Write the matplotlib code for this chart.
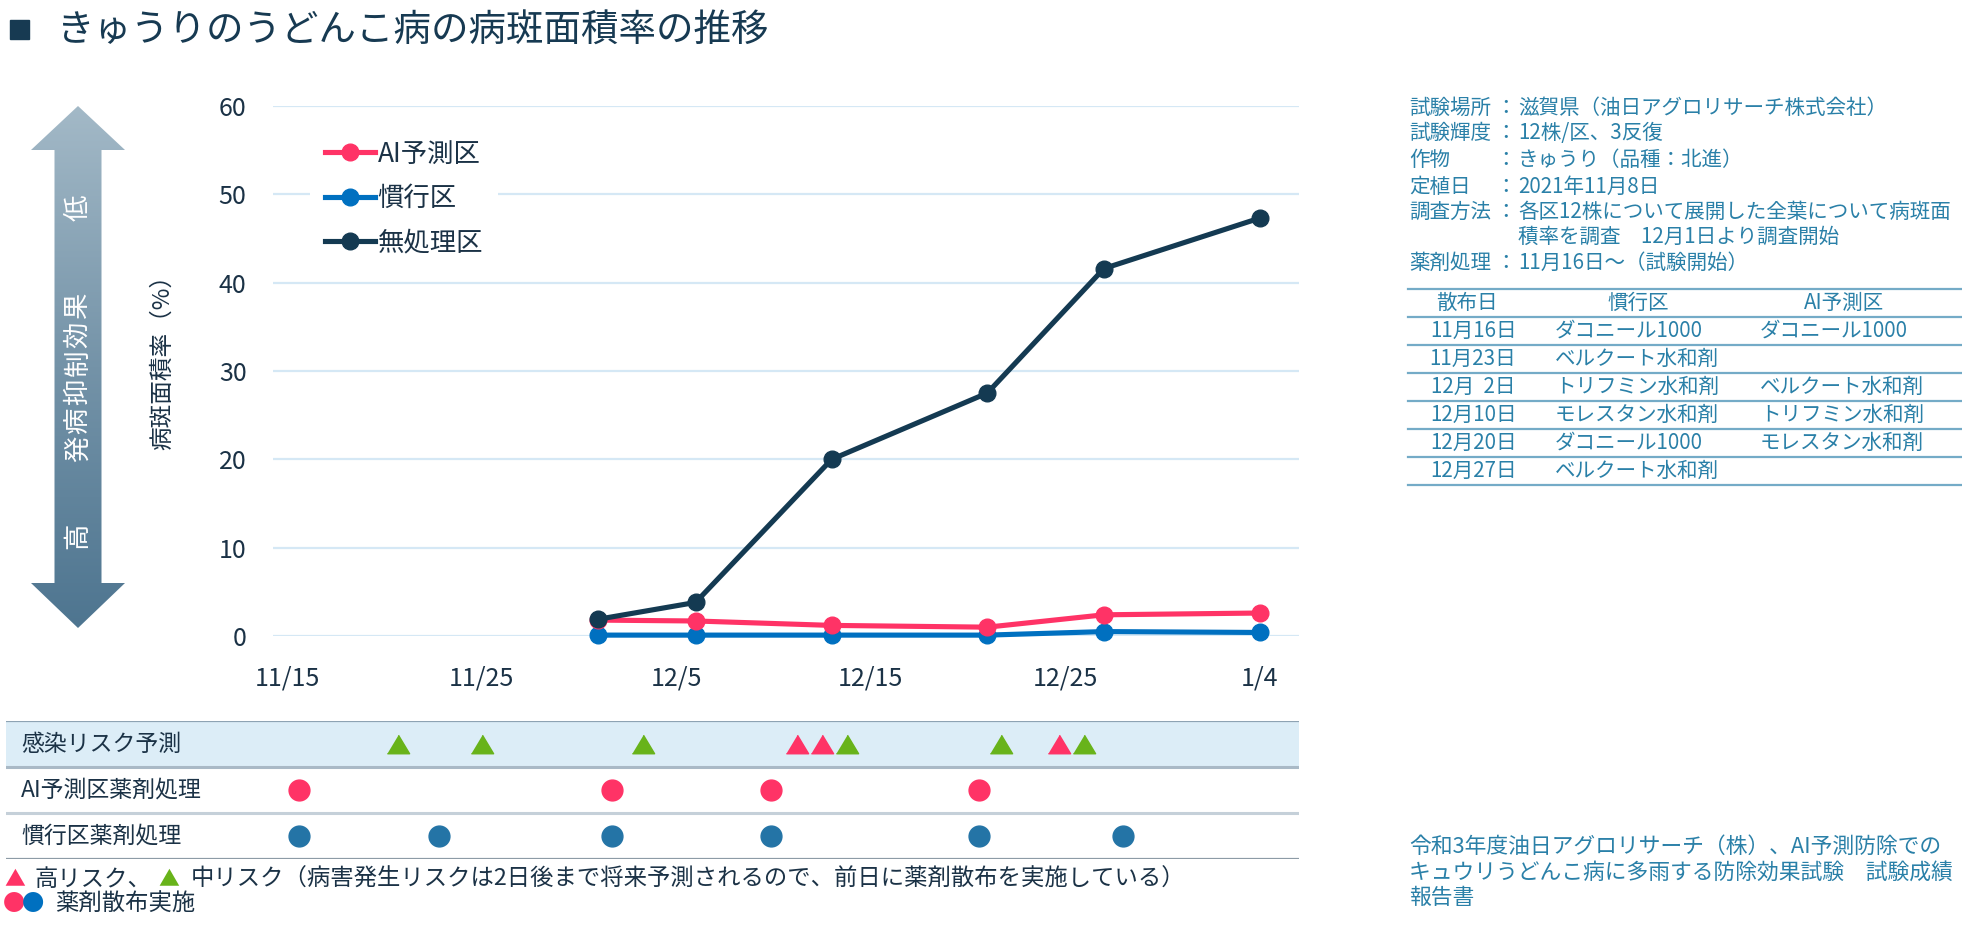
import numpy as np
import matplotlib
matplotlib.use('Agg')
from matplotlib import pyplot as plt
from matplotlib.patches import Polygon, Rectangle
from matplotlib.colors import LinearSegmentedColormap
from matplotlib import transforms

plt.rcParams['font.family'] = ['Noto Sans CJK JP', 'DejaVu Sans']

W, H = 1962, 932
NAVY = '#173a52'
TEXT = '#1b3246'
TEAL = '#2a80a8'

# chart data (x = days after 11/15)
x_ticks = [0, 10, 20, 30, 40, 50]
x_tick_labels = ['11/15', '11/25', '12/5', '12/15', '12/25', '1/4']
survey_days = [16, 21, 28, 36, 42, 50]
ai_area = [1.8, 1.7, 1.2, 1.0, 2.4, 2.6]
conv_area = [0.1, 0.1, 0.1, 0.1, 0.5, 0.4]
untreated_area = [1.9, 3.8, 20.0, 27.5, 41.6, 47.3]
series_names = ['AI予測区', '慣行区', '無処理区']
series_colors = ['#ff3366', '#0070c0', '#143a52']

# lower panel
row_labels = ['感染リスク予測', 'AI予測区薬剤処理', '慣行区薬剤処理']
risk_days = [5.7, 10.0, 18.3, 26.2, 27.5, 28.8, 36.7, 39.7, 41.0]
risk_levels = ['中', '中', '中', '高', '高', '中', '中', '高', '中']
ai_spray_days = [0.6, 16.7, 24.9, 35.6]
conv_spray_days = [0.6, 7.8, 16.7, 24.9, 35.6, 43.0]

# right side text
info_labels = ['試験場所', '試験輝度', '作物', '定植日', '調査方法', '', '薬剤処理']
info_values = ['滋賀県（油日アグロリサーチ株式会社）', '12株/区、3反復', 'きゅうり（品種：北進）',
               '2021年11月8日', '各区12株について展開した全葉について病斑面',
               '積率を調査　12月1日より調査開始', '11月16日～（試験開始）']
table_header = ['散布日', '慣行区', 'AI予測区']
spray_dates = ['11月16日', '11月23日', '12月  2日', '12月10日', '12月20日', '12月27日']
conv_products = ['ダコニール1000', 'ベルクート水和剤', 'トリフミン水和剤', 'モレスタン水和剤',
                 'ダコニール1000', 'ベルクート水和剤']
ai_products = ['ダコニール1000', '', 'ベルクート水和剤', 'トリフミン水和剤', 'モレスタン水和剤', '']
source_lines = ['令和3年度油日アグロリサーチ（株）、AI予測防除での',
                'キュウリうどんこ病に多雨する防除効果試験　試験成績',
                '報告書']


def fx(x):
    return x / W


def fy(y):
    return 1 - y / H


fig = plt.figure(figsize=(W / 100, H / 100), dpi=100)

# overlay in pixel coordinates for free text and the arrow
ov = fig.add_axes([0, 0, 1, 1])
ov.axis('off')

# gradient arrow
cx = 78
arrow = [(cx, 106), (cx + 47, 150), (cx + 23.5, 150), (cx + 23.5, 583), (cx + 47, 583),
         (cx, 628), (cx - 47, 583), (cx - 23.5, 583), (cx - 23.5, 150), (cx - 47, 150)]
poly = Polygon(arrow, closed=True, facecolor='none', edgecolor='none')
ov.add_patch(poly)
cmap = LinearSegmentedColormap.from_list('arr', ['#a3b9c7', '#7493a8', '#4e7590'])
img = ov.imshow(np.linspace(0, 1, 256).reshape(-1, 1), cmap=cmap, aspect='auto',
                extent=(cx - 48, cx + 48, 628, 106), origin='upper')
img.set_clip_path(poly)
ov.set_xlim(0, W)
ov.set_ylim(H, 0)

ov.text(cx, 208, '低', rotation=90, color='white', fontsize=19, ha='center', va='center')
ov.text(cx, 536, '高', rotation=90, color='white', fontsize=19, ha='center', va='center')
for i, ch in enumerate('発病抑制効果'):
    ov.text(cx, 449 - i * 28.6, ch, rotation=90, color='white', fontsize=19,
            ha='center', va='center')

# title
ov.add_patch(Rectangle((10, 20), 19, 19, color=NAVY))
ov.text(57, 30, 'きゅうりのうどんこ病の病斑面積率の推移', fontsize=27, color=NAVY, va='center')

# y label
ov.text(163, 357, '病斑面積率（%）', rotation=90, fontsize=17, color=TEXT, ha='center', va='center')

# main chart
ax = fig.add_axes([fx(273), fy(636), (1299 - 273) / W, (636 - 106) / H])
ax.set_xlim(-0.73, 52.03)
ax.set_ylim(0, 60)
ax.set_yticks(range(0, 61, 10))
ax.set_xticks(x_ticks, x_tick_labels)
ax.grid(axis='y', color='#d5e8f5', lw=1.6)
ax.set_axisbelow(True)
for s in ax.spines.values():
    s.set_visible(False)
ax.tick_params(axis='both', length=0, labelsize=18, labelcolor=TEXT)
ax.tick_params(axis='y', pad=19)
ax.tick_params(axis='x', pad=21)

l_conv, = ax.plot(survey_days, conv_area, color=series_colors[1], lw=3.7, marker='o', ms=12,
                  clip_on=False, zorder=3)
l_ai, = ax.plot(survey_days, ai_area, color=series_colors[0], lw=3.7, marker='o', ms=12,
                clip_on=False, zorder=4)
l_un, = ax.plot(survey_days, untreated_area, color=series_colors[2], lw=3.7, marker='o', ms=12,
                clip_on=False, zorder=5)

ax.legend([l_ai, l_conv, l_un], series_names, loc='upper left',
          bbox_to_anchor=(fx(297), fy(113)), bbox_transform=fig.transFigure,
          frameon=True, fancybox=False, edgecolor='none', facecolor='white', framealpha=1,
          fontsize=19, handlelength=1.9, handletextpad=0.1, labelspacing=0.66,
          borderpad=0.55, labelcolor=TEXT)

# lower panel
ax2 = fig.add_axes([fx(6), fy(859), (1299 - 6) / W, (859 - 721) / H])
ax2.set_xlim(-14.45, 52.03)
ax2.set_ylim(3, 0)
ax2.axis('off')
ax2.axhspan(0, 1, color='#dcedf7', zorder=0)
for yy, c, w in [(0, '#8ea3b3', 1.6), (1, '#a9b9c6', 2.2), (2, '#c5d0d9', 2.2), (3, '#8d9ba6', 1.6)]:
    ax2.axhline(yy, color=c, lw=w, zorder=1)

tri = [(-0.6, -0.5), (0.6, -0.5), (0, 0.5)]
risk_colors = {'高': '#ff3366', '中': '#68b31a'}
for lvl, col in risk_colors.items():
    xs = [d for d, l in zip(risk_days, risk_levels) if l == lvl]
    ax2.plot(xs, [0.5] * len(xs), ls='none', marker=tri, ms=16, color=col, zorder=3)
ax2.plot(ai_spray_days, [1.5] * len(ai_spray_days), ls='none', marker='o', ms=15,
         color='#ff3366', zorder=3)
ax2.plot(conv_spray_days, [2.5] * len(conv_spray_days), ls='none', marker='o', ms=15,
         color='#2474a6', zorder=3)

blend = transforms.blended_transform_factory(ax2.transAxes, ax2.transData)
for i, lab in enumerate(row_labels):
    ax2.text(0.0116, i + 0.5, lab, transform=blend, fontsize=16.5, color=TEXT, va='center')

# footnotes
ov.text(15, 879, '▲', fontsize=15, color='#ff3366', ha='center', va='center')
ov.text(35, 879, '高リスク、', fontsize=16.8, color=TEXT, va='center')
ov.text(169, 879, '▲', fontsize=15, color='#68b31a', ha='center', va='center')
ov.text(191, 879, '中リスク（病害発生リスクは2日後まで将来予測されるので、前日に薬剤散布を実施している）',
        fontsize=16.8, color=TEXT, va='center')
ov.text(14, 904, '●', fontsize=16, color='#ff3366', ha='center', va='center')
ov.text(33, 904, '●', fontsize=16, color='#0070c0', ha='center', va='center')
ov.text(55, 904, '薬剤散布実施', fontsize=16.8, color=TEXT, va='center')

# info block
info_y = [108, 133, 160, 187, 212, 237, 263]
for lab, val, yy in zip(info_labels, info_values, info_y):
    if lab:
        ov.text(1409, yy, lab, fontsize=14.8, color=TEAL, va='center')
        ov.text(1505, yy, '：', fontsize=14.8, color=TEAL, va='center', ha='center')
    ov.text(1518, yy, val, fontsize=14.8, color=TEAL, va='center')

# spray table
line_y = [289, 317, 345, 373, 401, 429, 457, 485]
for yy in line_y:
    ov.plot([1408, W], [yy, yy], color='#74abc7', lw=1.6)
hy = (line_y[0] + line_y[1]) / 2
for txt, xx in zip(table_header, [1467, 1638, 1844]):
    ov.text(xx, hy, txt, fontsize=14.8, color=TEAL, ha='center', va='center')
for i, (d, cp, ap) in enumerate(zip(spray_dates, conv_products, ai_products)):
    yy = (line_y[i + 1] + line_y[i + 2]) / 2
    ov.text(1473, yy, d, fontsize=14.8, color=TEAL, ha='center', va='center')
    ov.text(1555, yy, cp, fontsize=14.8, color=TEAL, va='center')
    ov.text(1760, yy, ap, fontsize=14.8, color=TEAL, va='center')

for i, s in enumerate(source_lines):
    ov.text(1409, 847 + i * 25.5, s, fontsize=15.7, color=TEAL, va='center')

fig.savefig('out.png', dpi=100)
